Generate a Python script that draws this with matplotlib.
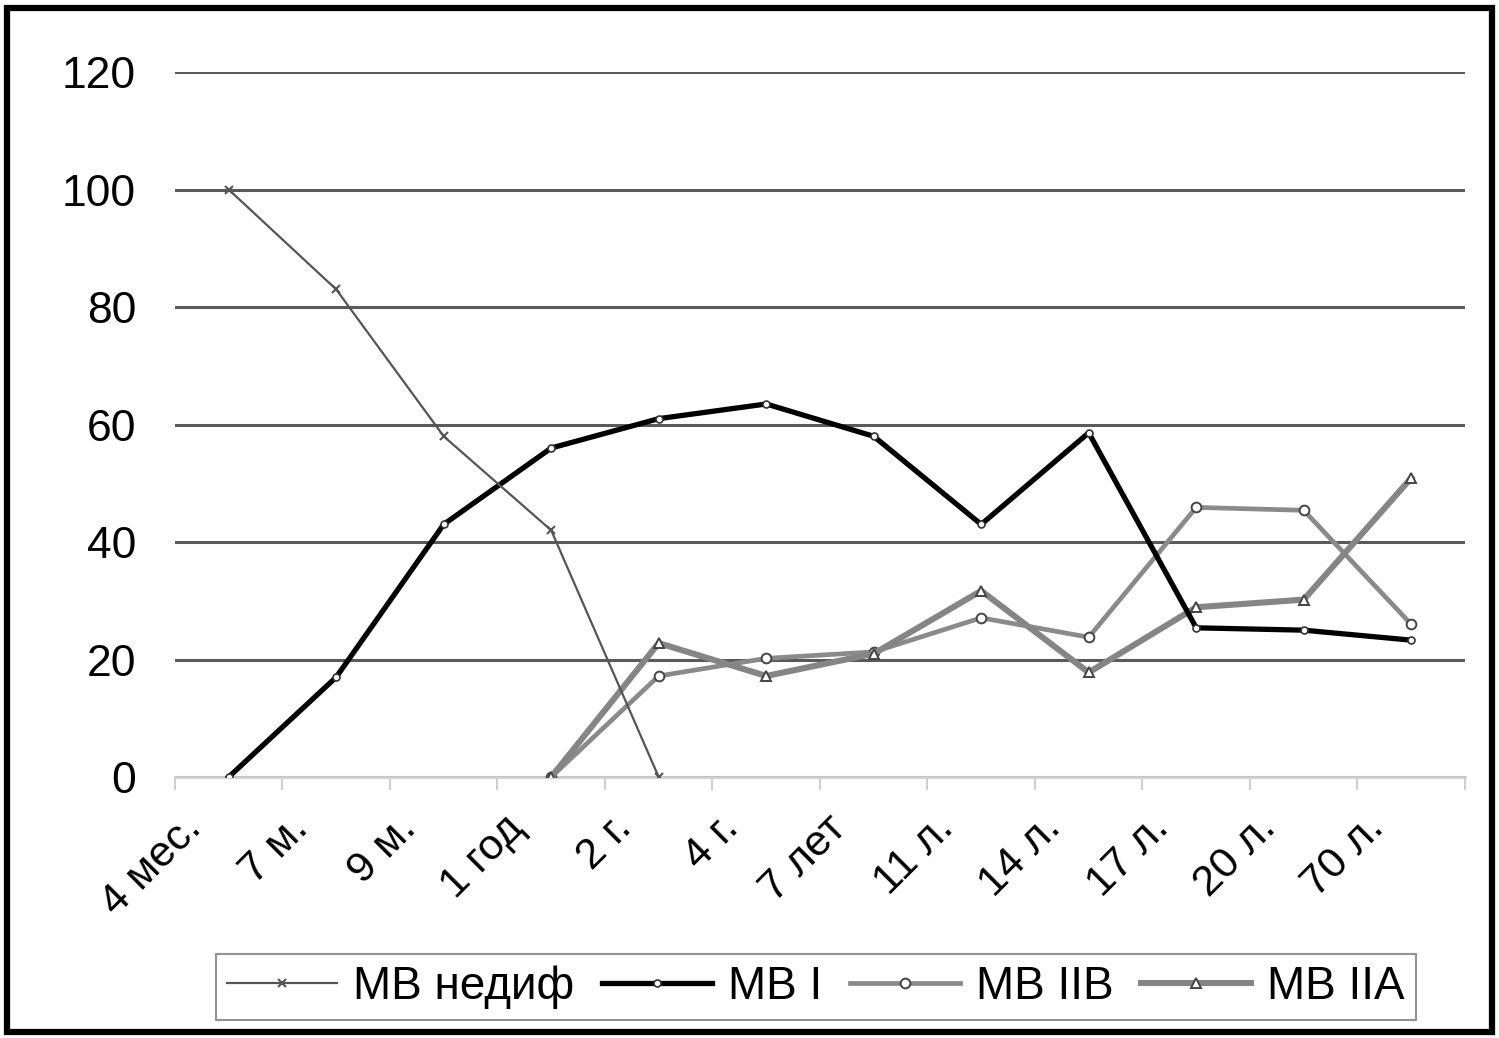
import numpy as np
import matplotlib
matplotlib.use('Agg')
import matplotlib.pyplot as plt
from matplotlib.patches import Rectangle
from matplotlib.transforms import ScaledTranslation

plt.rcParams['font.family'] = ['Liberation Sans', 'DejaVu Sans']

# возрастные группы
ages = ['4 мес.', '7 м.', '9 м.', '1 год', '2 г.', '4 г.', '7 лет',
        '11 л.', '14 л.', '17 л.', '20 л.', '70 л.']

# доля волокон, %
mv_nedif = [100, 83, 58, 42, 0, None, None, None, None, None, None, None]
mv_1 = [0, 17, 43, 56, 61, 63.5, 58, 43, 58.6, 25.4, 25, 23.3]
mv_2b = [None, None, None, 0, 17.2, 20.2, 21.3, 27.1, 23.8, 45.9, 45.4, 26]
mv_2a = [None, None, None, 0, 22.8, 17.2, 21, 31.7, 17.8, 28.9, 30.2, 50.9]


def arr(v):
    return np.array([np.nan if a is None else a for a in v], dtype=float)


x = np.arange(len(ages))

fig = plt.figure(figsize=(14.99, 10.38), dpi=100)
ax = fig.add_axes([0.1167, 0.2514, 0.8606, 0.6792])

ax.plot(x, arr(mv_nedif), color='#555555', lw=1.6, marker='x', ms=6,
        mew=1.5, label='МВ недиф', zorder=5)
ax.plot(x, arr(mv_1), color='black', lw=3.8, marker='o', ms=5,
        mfc='white', mec='#333333', mew=1.2, label='МВ I', zorder=4)
ax.plot(x, arr(mv_2b), color='#8a8a8a', lw=3.4, marker='o', ms=7,
        mfc='white', mec='#444444', mew=1.4, label='МВ IIB', zorder=3)
ax.plot(x, arr(mv_2a), color='#858585', lw=4.4, marker='^', ms=7,
        mfc='white', mec='#444444', mew=1.4, label='МВ IIA', zorder=3)

ax.set_xlim(-0.5, len(ages) - 0.5)
ax.set_ylim(0, 120)
ax.set_yticks(range(0, 121, 20))
ax.yaxis.grid(True, color='#5a5a5a', lw=2.2)
ax.set_axisbelow(True)

for s in ['left', 'right', 'top']:
    ax.spines[s].set_visible(False)
ax.spines['bottom'].set_color('#d0d0d0')
ax.spines['bottom'].set_linewidth(2)

ax.set_xticks(x)
ax.set_xticklabels(ages, rotation=45, ha='right', va='baseline',
                   rotation_mode='anchor')
ax.set_xticks(np.arange(-0.5, len(ages)), minor=True)
ax.tick_params(axis='x', which='major', length=0, pad=38, labelsize=31)
ax.tick_params(axis='x', which='minor', length=9, width=1.5,
               color='#d0d0d0')
ax.tick_params(axis='y', length=0, pad=28, labelsize=32)

# подписи сдвинуты влево от центра категории
shift = ScaledTranslation(-0.26, 0, fig.dpi_scale_trans)
for lab in ax.get_xticklabels():
    lab.set_transform(lab.get_transform() + shift)

leg = fig.legend(loc='center', bbox_to_anchor=(816 / 1499, 1 - 987 / 1038),
                 ncol=4, fontsize=33, frameon=True, fancybox=False,
                 handlelength=2.4, handletextpad=0.35, columnspacing=0.6,
                 borderpad=0.25)
leg.get_frame().set_edgecolor('#777777')
leg.get_frame().set_linewidth(1.5)

# рамка вокруг рисунка
fig.patches.append(Rectangle((0.005, 0.006), 0.99, 0.986, transform=fig.transFigure,
                             fill=False, edgecolor='black', lw=4.5))

fig.savefig('out.png', dpi=100)
